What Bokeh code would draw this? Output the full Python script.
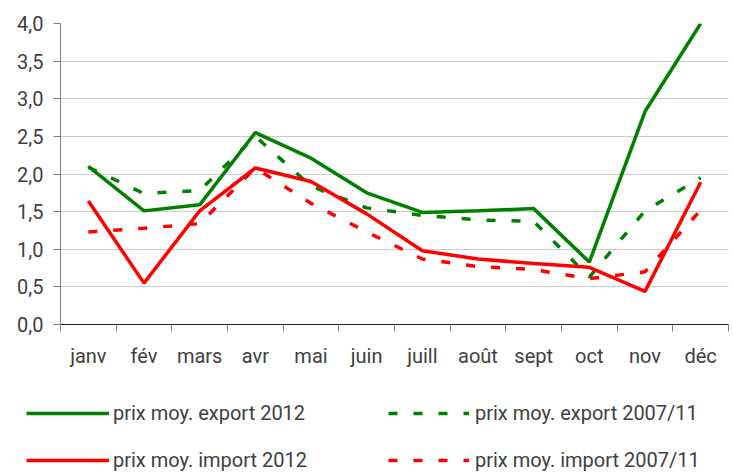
from bokeh.plotting import figure
from bokeh.layouts import column
from bokeh.models import Range1d, FixedTicker, CustomJSTickFormatter, Legend, LegendItem
from bokeh.embed import file_html
from bokeh.resources import INLINE

months = ["janv", "fév", "mars", "avr", "mai", "juin", "juill", "août", "sept", "oct", "nov", "déc"]
export_2012 = [2.10, 1.51, 1.59, 2.55, 2.21, 1.75, 1.49, 1.51, 1.54, 0.83, 2.83, 4.00]
export_0711 = [2.09, 1.74, 1.78, 2.50, 1.84, 1.55, 1.45, 1.39, 1.37, 0.63, 1.51, 1.95]
import_2012 = [1.64, 0.55, 1.51, 2.08, 1.90, 1.47, 0.98, 0.87, 0.81, 0.76, 0.44, 1.89]
import_0711 = [1.23, 1.28, 1.34, 2.08, 1.61, 1.23, 0.87, 0.77, 0.73, 0.61, 0.70, 1.52]
names = ["prix moy. export 2012", "prix moy. export 2007/11",
         "prix moy. import 2012", "prix moy. import 2007/11"]
y_ticks = [0.0, 0.5, 1.0, 1.5, 2.0, 2.5, 3.0, 3.5, 4.0]

FONT = "Roboto"
TXT = "#404040"
GREEN = "#008000"
RED = "#ff0000"
LW = 3.5
DASH = "9 16"

xs = [i + 0.5 for i in range(len(months))]

p = figure(width=733, height=370, output_backend="svg", toolbar_location=None,
           x_range=Range1d(0, len(months)), y_range=Range1d(0, 4),
           min_border_left=60, min_border_right=5, min_border_top=23, min_border_bottom=46)
p.frame_align = False
p.outline_line_color = None
p.background_fill_color = "white"
p.border_fill_color = "white"

# x axis: labels at month centres, tick marks at month boundaries (minor ticks)
xa = p.xaxis[0]
xa.ticker = FixedTicker(ticks=xs, minor_ticks=list(range(len(months) + 1)))
xa.formatter = CustomJSTickFormatter(args=dict(labels=months),
                                     code="return labels[Math.round(tick - 0.5)];")
xa.major_tick_out = 7
xa.major_tick_in = 0
xa.major_tick_line_color = None
xa.minor_tick_out = 7
xa.minor_tick_in = 0
xa.minor_tick_line_color = "#808080"
xa.axis_line_color = "#202020"
xa.major_label_standoff = 12
xa.major_label_text_font = FONT
xa.major_label_text_font_size = "20px"
xa.major_label_text_color = TXT

ya = p.yaxis[0]
ya.ticker = FixedTicker(ticks=y_ticks, minor_ticks=[])
ya.formatter = CustomJSTickFormatter(code="return tick.toFixed(1).replace('.', ',');")
ya.major_tick_out = 7
ya.major_tick_in = 0
ya.major_tick_line_color = "#808080"
ya.axis_line_color = "#808080"
ya.major_label_standoff = 10
ya.major_label_text_font = FONT
ya.major_label_text_font_size = "20px"
ya.major_label_text_color = TXT

p.xgrid.grid_line_color = None
p.ygrid.ticker = FixedTicker(ticks=y_ticks)
p.ygrid.grid_line_color = "#cccccc"
p.ygrid.grid_line_width = 1

p.line(xs, export_2012, line_color=GREEN, line_width=LW)
p.line(xs, export_0711, line_color=GREEN, line_width=LW, line_dash=DASH)
p.line(xs, import_2012, line_color=RED, line_width=LW)
p.line(xs, import_0711, line_color=RED, line_width=LW, line_dash=DASH)

# legend strip below the chart (its own figure, no axes)
lg = figure(width=733, height=104, output_backend="svg", toolbar_location=None,
            x_range=Range1d(0, 1), y_range=Range1d(0, 1),
            x_axis_location=None, y_axis_location=None,
            min_border_left=0, min_border_right=0, min_border_top=0, min_border_bottom=0)
lg.frame_align = False
lg.grid.grid_line_color = None
lg.outline_line_color = None
lg.background_fill_color = "white"
lg.border_fill_color = "white"

# proxy renderers placed outside the visible range, used only for the legend swatches
off = [-5, -4]
l_ex12 = lg.line(off, off, line_color=GREEN, line_width=LW)
l_ex07 = lg.line(off, off, line_color=GREEN, line_width=LW, line_dash=DASH)
l_im12 = lg.line(off, off, line_color=RED, line_width=LW)
l_im07 = lg.line(off, off, line_color=RED, line_width=LW, line_dash=DASH)


def make_legend(items, loc, gw, standoff):
    leg = Legend(items=items, location=loc, orientation="vertical",
                 glyph_width=gw, glyph_height=22, label_height=22,
                 label_standoff=standoff, spacing=23, padding=0, margin=0,
                 border_line_color=None, background_fill_alpha=0,
                 label_text_font=FONT, label_text_font_size="20px",
                 label_text_color=TXT)
    lg.add_layout(leg)


make_legend([LegendItem(label=names[0], renderers=[l_ex12]),
             LegendItem(label=names[2], renderers=[l_im12])], (26, 2), 83, 4)
make_legend([LegendItem(label=names[1], renderers=[l_ex07]),
             LegendItem(label=names[3], renderers=[l_im07])], (388, 2), 81, 6)

layout = column(p, lg, spacing=0)
open("out.html", "w").write(file_html(layout, INLINE))
